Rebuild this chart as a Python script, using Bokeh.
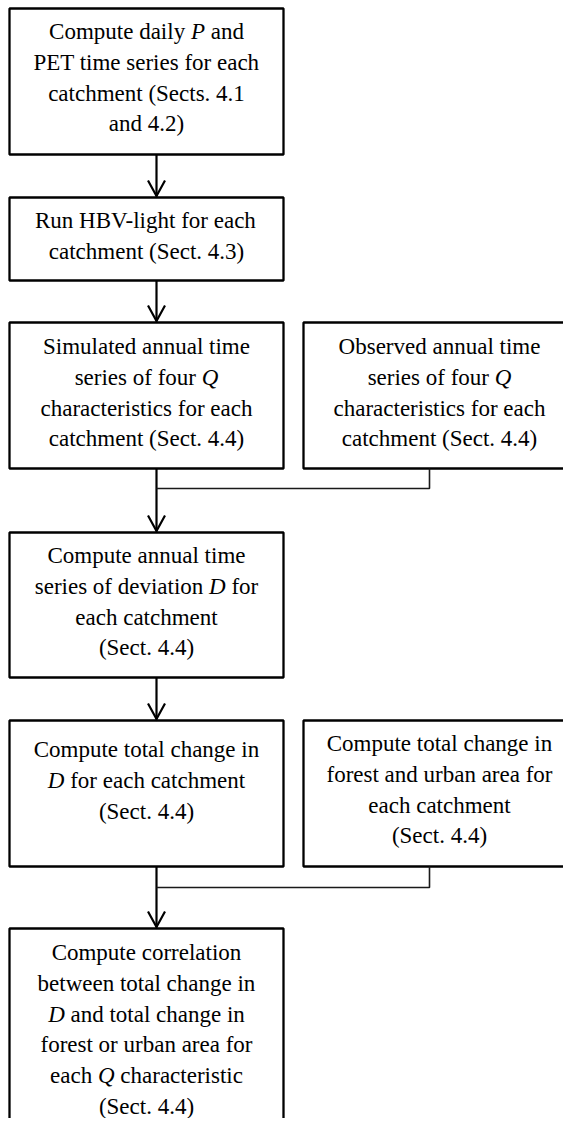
from bokeh.plotting import figure
from bokeh.models import Range1d
from bokeh.embed import file_html
from bokeh.resources import INLINE
from bokeh.core.properties import value

# ---- content (words wrapped in *...* are italic) ----
step_1 = ["Compute daily *P* and", "PET time series for each", "catchment (Sects. 4.1", "and 4.2)"]
step_2 = ["Run HBV-light for each", "catchment (Sect. 4.3)"]
step_3_sim = ["Simulated annual time", "series of four *Q*", "characteristics for each", "catchment (Sect. 4.4)"]
step_3_obs = ["Observed annual time", "series of four *Q*", "characteristics for each", "catchment (Sect. 4.4)"]
step_4 = ["Compute annual time", "series of deviation *D* for", "each catchment", "(Sect. 4.4)"]
step_5_d = ["Compute total change in", "*D* for each catchment", "(Sect. 4.4)"]
step_5_land = ["Compute total change in", "forest and urban area for", "each catchment", "(Sect. 4.4)"]
step_6 = ["Compute correlation", "between total change in", "*D* and total change in",
          "forest or urban area for", "each *Q* characteristic", "(Sect. 4.4)"]

# ---- layout (image pixel coordinates) ----
FS = 23.0
LH = 30.8
FONT = "Liberation Serif"
INK = "#000000"
LEFT_COL = (9, 283)
RIGHT_COL = (303, 575)

boxes = [
    # (lines, (x0, x1), top, bottom, first text line y)
    (step_1, LEFT_COL, 8, 154, 31),
    (step_2, LEFT_COL, 197, 280, 220),
    (step_3_sim, LEFT_COL, 322, 468, 346),
    (step_3_obs, RIGHT_COL, 322, 468, 346),
    (step_4, LEFT_COL, 532, 677, 555),
    (step_5_d, LEFT_COL, 720, 866, 749),
    (step_5_land, RIGHT_COL, 720, 866, 743),
    (step_6, LEFT_COL, 928, 1145, 952),
]

# Times / Liberation Serif advance widths (per 1000 em)
ROMAN = {' ': 250, '(': 333, ')': 333, '.': 250, '-': 333, ',': 250,
         'A': 722, 'B': 667, 'C': 667, 'D': 722, 'E': 611, 'H': 722, 'O': 722, 'P': 556,
         'Q': 722, 'R': 667, 'S': 556, 'T': 611, 'V': 722,
         'a': 444, 'b': 500, 'c': 444, 'd': 500, 'e': 444, 'f': 333, 'g': 500, 'h': 500,
         'i': 278, 'j': 278, 'k': 500, 'l': 278, 'm': 778, 'n': 500, 'o': 500, 'p': 500,
         'q': 500, 'r': 333, 's': 389, 't': 278, 'u': 500, 'v': 500, 'w': 722, 'x': 500,
         'y': 500, 'z': 444}
ITALIC = {'P': 611, 'Q': 722, 'D': 722}


def width(s, italic=False):
    tab = ITALIC if italic else ROMAN
    return sum(tab.get(ch, ROMAN.get(ch, 500)) for ch in s) * FS / 1000.0


def runs(line):
    out = []
    for w in line.split(" "):
        it = w.startswith("*") and w.endswith("*")
        w2 = w.strip("*")
        if out and out[-1][1] == it:
            out[-1][0].append(w2)
        else:
            out.append([[w2], it])
    return [(" ".join(ws), it) for ws, it in out]


rx, ry, rt = [], [], []
ix, iy, it_ = [], [], []
for lines, (x0, x1), top, bottom, base in boxes:
    cx = (x0 + x1) / 2.0
    for k, line in enumerate(lines):
        y = base + k * LH
        rr = runs(line)
        total = sum(width(t, i) for t, i in rr) + width(" ") * (len(rr) - 1)
        x = cx - total / 2.0
        for t, i in rr:
            if i:
                ix.append(x); iy.append(y); it_.append(t)
            else:
                rx.append(x); ry.append(y); rt.append(t)
            x += width(t, i) + width(" ")

p = figure(width=563, height=1118, x_range=Range1d(0, 563), y_range=Range1d(1118, 0),
           output_backend="svg", toolbar_location=None, min_border=0)
p.axis.visible = False
p.grid.visible = False
p.outline_line_color = None
p.background_fill_color = "white"
p.border_fill_color = "white"

# boxes
p.quad(left=[b[1][0] for b in boxes], right=[b[1][1] for b in boxes],
       top=[b[2] for b in boxes], bottom=[b[3] for b in boxes],
       fill_color=None, line_color=INK, line_width=2.3)

# arrows (shaft + open head)
AX = 156
arrows = [(154, 197), (280, 322), (468, 532), (677, 720), (866, 928)]
for y0, y1 in arrows:
    p.line([AX, AX], [y0, y1 - 1], line_color=INK, line_width=2.2)
    p.line([AX - 8.5, AX, AX + 8.5], [y1 - 17, y1 - 1.5, y1 - 17],
           line_color=INK, line_width=2.2, line_join="miter")

# junction connectors from right-hand boxes
RX = 429
for ytop, yj in [(468, 488), (866, 887)]:
    p.line([RX, RX, AX], [ytop, yj, yj], line_color="#1a1a1a", line_width=1.6)

# texts
p.text(x=rx, y=ry, text=rt, text_font=value(FONT), text_font_size=f"{FS}px",
       text_align="left", text_baseline="alphabetic", text_color=INK)
p.text(x=ix, y=iy, text=it_, text_font=value(FONT), text_font_size=f"{FS}px",
       text_font_style="italic", text_align="left", text_baseline="alphabetic",
       text_color=INK)

open("out.html", "w").write(file_html(p, INLINE))
